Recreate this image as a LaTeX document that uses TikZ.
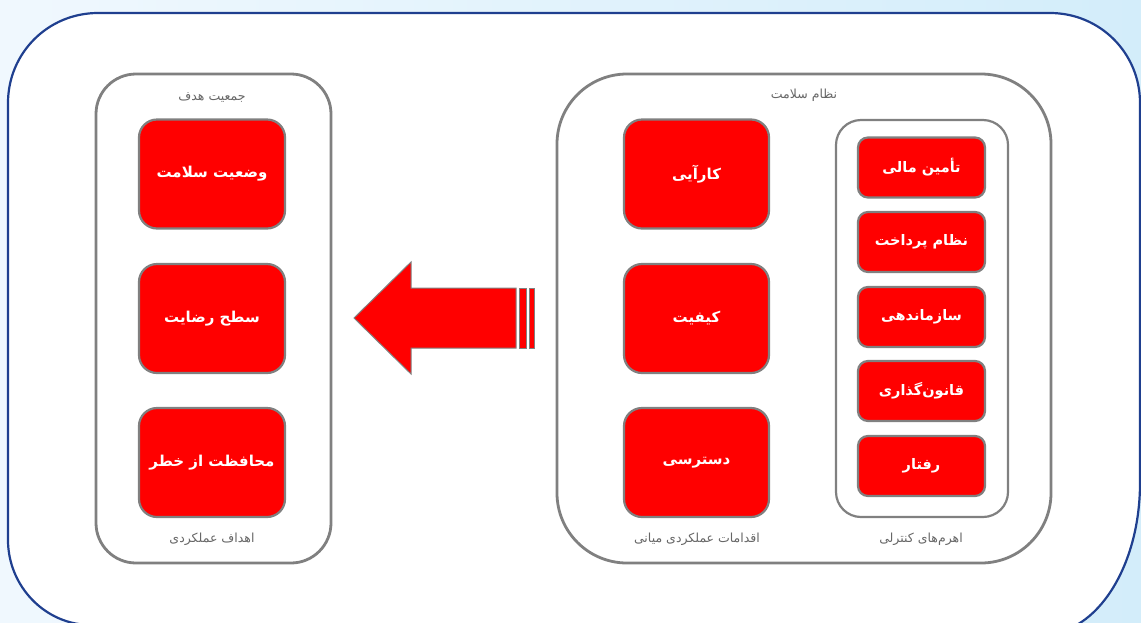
\documentclass[tikz,border=0pt]{standalone}
\usepackage{fontspec}
\newfontfamily\arabicfont[Script=Arabic]{DejaVu Sans}
\TeXXeTstate=1
\definecolor{bgL}{HTML}{F0F8FE}
\definecolor{bgR}{HTML}{D3EDFA}
\definecolor{navy}{HTML}{1F3F8F}
\definecolor{frame}{HTML}{808080}
\definecolor{lbl}{HTML}{666666}
\definecolor{boxred}{HTML}{FF0000}
\tikzset{
  panel/.style={draw=frame, line width=2.8pt, fill=white, inner sep=0pt},
  redbox/.style={draw=frame, line width=2.2pt, fill=boxred, rounded corners=18pt, inner sep=0pt,
    text=white, font=\arabicfont\bfseries\fontsize{15}{18}\selectfont, align=center},
  smallbox/.style={redbox, rounded corners=10pt, font=\arabicfont\bfseries\fontsize{14.5}{17}\selectfont},
  lab/.style={text=lbl, font=\arabicfont\fontsize{12.5}{15}\selectfont, inner sep=0pt},
}
\newcommand{\rtl}[1]{\beginR #1\endR}
\begin{document}
\begin{tikzpicture}[x=1pt,y=-1pt]
\useasboundingbox (0,0) rectangle (1141,622);
\shade[left color=bgL, right color=bgR] (0,0) rectangle (1141,622);
\begin{scope}
\clip (0,0) rectangle (1141,622);
\draw[navy, line width=2.2pt, fill=white]
  (8,103) .. controls (8,53) and (48,13) .. (98,13) -- (1050,13)
  .. controls (1100,13) and (1140,53) .. (1140,103) -- (1140,483)
  .. controls (1140,566) and (1097,634) .. (1044,634) -- (91,625)
  .. controls (45,625) and (8,586) .. (8,540) -- cycle;
\end{scope}

% left panel
\node[panel, rounded corners=40pt, minimum width=235pt, minimum height=489pt] (leftp) at (213.5,318.5) {};
\node[lab] (lt) at (212,97) {\rtl{جمعیت هدف}};
\node[lab] (lb) at (212,539) {\rtl{اهداف عملکردی}};
\node[redbox, minimum width=146pt, minimum height=109pt] (l1) at (212,174) {\rtl{وضعیت سلامت}};
\node[redbox, minimum width=146pt, minimum height=109pt] (l2) at (212,318.5) {\rtl{سطح رضایت}};
\node[redbox, minimum width=146pt, minimum height=109pt] (l3) at (212,462.5) {\rtl{محافظت از خطر}};

% right panel
\node[panel, rounded corners=70pt, minimum width=494pt, minimum height=489pt] (rightp) at (804,318.5) {};
\node[lab] (rt) at (804,95) {\rtl{نظام سلامت}};
\node[lab] (rb1) at (697,539) {\rtl{اقدامات عملکردی میانی}};
\node[lab] (rb2) at (921,539) {\rtl{اهرم‌های کنترلی}};
\node[redbox, minimum width=145pt, minimum height=109pt] (m1) at (696.5,174) {\rtl{کارآیی}};
\node[redbox, minimum width=145pt, minimum height=109pt] (m2) at (696.5,318.5) {\rtl{کیفیت}};
\node[redbox, minimum width=145pt, minimum height=109pt] (m3) at (696.5,462.5) {\rtl{دسترسی}};

% inner panel
\node[panel, line width=2.2pt, rounded corners=25pt, minimum width=172pt, minimum height=397pt] (innerp) at (922,318.5) {};
\node[smallbox, minimum width=127pt, minimum height=60pt] (s1) at (921.5,167.5) {\rtl{تأمین مالی}};
\node[smallbox, minimum width=127pt, minimum height=60pt] (s2) at (921.5,242) {\rtl{نظام پرداخت}};
\node[smallbox, minimum width=127pt, minimum height=60pt] (s3) at (921.5,317) {\rtl{سازماندهی}};
\node[smallbox, minimum width=127pt, minimum height=60pt] (s4) at (921.5,391) {\rtl{قانون‌گذاری}};
\node[smallbox, minimum width=127pt, minimum height=60pt] (s5) at (921.5,466) {\rtl{رفتار}};

% striped block arrow
\begin{scope}[draw=frame, fill=boxred, line width=1pt]
\filldraw (354,318) -- (411,262) -- (411,288) -- (516,288) -- (516,348) -- (411,348) -- (411,374) -- cycle;
\filldraw (519,288) rectangle (526,348);
\filldraw (529,288) rectangle (534,348);
\end{scope}
\end{tikzpicture}
\end{document}
